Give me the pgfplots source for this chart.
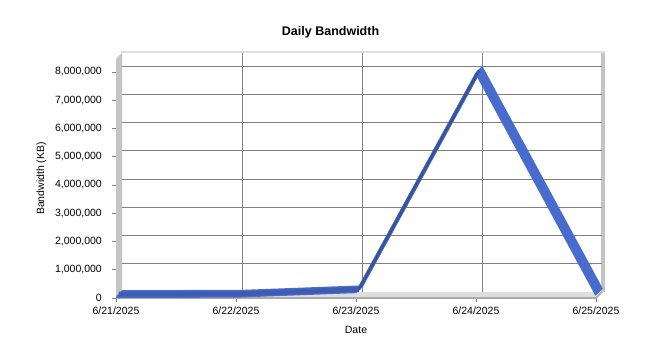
\documentclass[border=0pt]{standalone}
\usepackage{pgfplots}
\pgfplotsset{compat=1.18}
\usepackage{fontspec}
\setmainfont{Liberation Sans}
\definecolor{wallL}{RGB}{196,196,196}
\definecolor{floorC}{RGB}{222,222,222}
\definecolor{edgeC}{RGB}{170,170,170}
\definecolor{gridC}{RGB}{128,128,128}
\definecolor{ribbon}{RGB}{72,108,205}
\definecolor{ribbonF}{RGB}{62,92,178}
\definecolor{ribbonD}{RGB}{56,82,150}
\begin{document}
\begin{tikzpicture}[x=1pt,y=1pt]
\useasboundingbox (0,0) rectangle (649,353);
\begin{axis}[
  at={(116pt,55pt)}, anchor=south west,
  scale only axis, width=480pt, height=239pt,
  xmin=0, xmax=4, ymin=0, ymax=8.46e6,
  clip=false,
  axis lines*=left,
  axis line style={edgeC, line width=0.8pt, -},
  xtick={0,1,2,3,4},
  xticklabels={6/21/2025,6/22/2025,6/23/2025,6/24/2025,6/25/2025},
  ytick={0,1000000,2000000,3000000,4000000,5000000,6000000,7000000,8000000},
  scaled y ticks=false,
  yticklabel style={/pgf/number format/fixed,/pgf/number format/1000 sep={,},
    /pgf/number format/assume math mode=true, inner sep=0pt, xshift=-10pt},
  xticklabel style={inner sep=0pt, yshift=-5pt},
  tick label style={font=\fontsize{10.5}{12}\selectfont},
  tick align=outside, major tick length=4pt,
  tick style={gridC, line width=0.6pt},
  title={\textbf{Daily Bandwidth}},
  title style={at={(axis description cs:0.447,1)}, anchor=base, yshift=17pt, font=\fontsize{12.5}{14}\selectfont},
  xlabel={Date},
  xlabel style={at={(axis description cs:0.5,0)}, anchor=base, yshift=-36pt, font=\fontsize{10.5}{12}\selectfont},
  ylabel={Bandwidth (KB)},
  ylabel style={at={(axis description cs:0,0.5)}, anchor=base, yshift=72pt, font=\fontsize{10.5}{12}\selectfont},
]
% walls
\fill[wallL] (axis cs:0,0) -- (axis cs:0,8.46e6) -- ([shift={(6pt,6pt)}]axis cs:0,8.46e6) -- ([shift={(6pt,6pt)}]axis cs:0,0) -- cycle;
\fill[floorC] (axis cs:0,0) -- (axis cs:4,0) -- ([shift={(6pt,6pt)}]axis cs:4,0) -- ([shift={(6pt,6pt)}]axis cs:0,0) -- cycle;
\draw[edgeC, line width=1.5pt] (axis cs:0,0) -- (axis cs:4,0) -- ([shift={(6pt,6pt)}]axis cs:4,0);
\draw[wallL, line width=4pt] ([shift={(7pt,6pt)}]axis cs:4,0) -- ([shift={(7pt,8pt)}]axis cs:4,8.46e6);
\draw[floorC, line width=2.5pt] ([shift={(5pt,7pt)}]axis cs:0,8.46e6) -- ([shift={(9pt,7pt)}]axis cs:4,8.46e6);
% back wall grid
\foreach \v in {1000000,2000000,3000000,4000000,5000000,6000000,7000000,8000000}{
  \edef\tmp{\noexpand\draw[gridC, line width=0.6pt] ([shift={(6pt,6pt)}]axis cs:0,\v) -- ([shift={(6pt,6pt)}]axis cs:4,\v);}\tmp
}
\foreach \u in {1,2,3}{
  \edef\tmp{\noexpand\draw[gridC, line width=0.6pt] ([shift={(6pt,6pt)}]axis cs:\u,0) -- ([shift={(6pt,6pt)}]axis cs:\u,8.46e6);}\tmp
}
% ribbon
\addplot[ribbon, line width=2pt, line join=round, xshift=6pt, yshift=6pt] coordinates {(0,30000) (1,40000) (2,200000) (3,7950000) (4,100000)};
\addplot[ribbon, line width=2pt, line join=round, xshift=5pt, yshift=5pt] coordinates {(0,30000) (1,40000) (2,200000) (3,7950000) (4,100000)};
\addplot[ribbon, line width=2pt, line join=round, xshift=4pt, yshift=4pt] coordinates {(0,30000) (1,40000) (2,200000) (3,7950000) (4,100000)};
\addplot[ribbon, line width=2pt, line join=round, xshift=3pt, yshift=3pt] coordinates {(0,30000) (1,40000) (2,200000) (3,7950000) (4,100000)};
\addplot[ribbon, line width=2pt, line join=round, xshift=2pt, yshift=2pt] coordinates {(0,30000) (1,40000) (2,200000) (3,7950000) (4,100000)};
\addplot[ribbon, line width=2pt, line join=round, xshift=1pt, yshift=1pt] coordinates {(0,30000) (1,40000) (2,200000) (3,7950000) (4,100000)};
\addplot[ribbon, line width=1.6pt, line join=round] coordinates {(0,30000) (1,40000) (2,200000) (3,7950000) (4,100000)};
\addplot[ribbonF, line width=5pt, xshift=3pt, yshift=3pt] coordinates {(0,30000) (1,40000) (2,200000)};
\addplot[ribbonD, line width=2.6pt, xshift=3pt, yshift=3pt] coordinates {(2,200000) (3,7950000)};
\end{axis}
\end{tikzpicture}
\end{document}
